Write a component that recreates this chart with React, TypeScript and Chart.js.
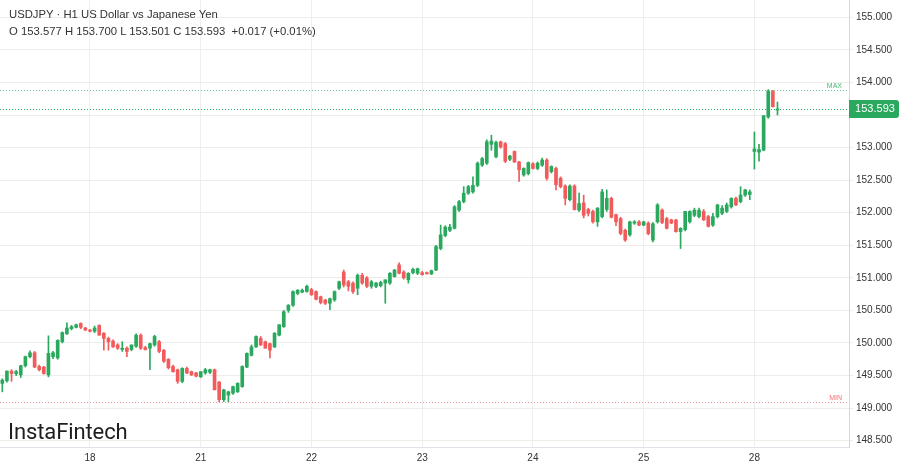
import React, { useEffect, useRef } from "react";
import { Chart, registerables } from "chart.js";

Chart.register(...registerables);

// ---- data (hourly candles, USDJPY H1) ----
const OPEN = [
  149.38, 149.42, 149.57, 149.53, 149.51, 149.65, 149.79, 149.85, 149.64, 149.63,
  149.51, 149.79, 149.77, 150.02, 150.14, 150.22, 150.24, 150.30, 150.23, 150.20,
  150.18, 150.27, 150.15, 150.07, 150.03, 149.97, 149.90, 149.92, 149.90, 149.95,
  150.12, 149.93, 149.92, 149.97, 150.02, 149.89, 149.75, 149.64, 149.59, 149.41,
  149.61, 149.56, 149.54, 149.48, 149.54, 149.55, 149.59, 149.40, 149.13, 149.20,
  149.23, 149.25, 149.33, 149.63, 149.81, 149.94, 150.07, 150.02, 149.99, 149.94,
  150.12, 150.25, 150.50, 150.58, 150.76, 150.78, 150.79, 150.82, 150.79, 150.71,
  150.66, 150.61, 150.66, 150.84, 151.09, 150.94, 150.92, 150.84, 151.04, 151.00,
  150.87, 150.87, 150.88, 150.92, 150.92, 151.02, 151.20, 151.09, 150.97, 151.08,
  151.07, 151.08, 151.08, 151.06, 151.12, 151.45, 151.65, 151.73, 151.76, 152.04,
  152.17, 152.30, 152.32, 152.42, 152.73, 152.76, 153.05, 152.86, 153.09, 153.06,
  152.82, 152.94, 152.78, 152.58, 152.60, 152.75, 152.68, 152.73, 152.81, 152.63,
  152.68, 152.53, 152.41, 152.20, 152.41, 152.04, 152.15, 152.05, 152.02, 151.86,
  151.94, 152.05, 152.22, 151.97, 151.91, 151.73, 151.66, 151.84, 151.86, 151.81,
  151.84, 151.58, 151.86, 152.04, 151.91, 151.89, 151.89, 151.71, 151.74, 151.86,
  151.96, 151.94, 152.02, 151.94, 151.81, 151.94, 151.99, 152.02, 152.09, 152.22,
  152.17, 152.27, 152.28, 152.94, 152.93, 152.96, 153.47, 153.86, 153.577,
];
const HIGH = [
  149.45, 149.57, 149.59, 149.58, 149.66, 149.80, 149.88, 149.87, 149.66, 149.64,
  150.11, 149.87, 150.05, 150.17, 150.31, 150.27, 150.29, 150.31, 150.24, 150.21,
  150.26, 150.28, 150.16, 150.09, 150.05, 149.99, 150.02, 149.94, 149.97, 150.14,
  150.14, 149.95, 150.00, 150.12, 150.04, 149.90, 149.76, 149.66, 149.60, 149.62,
  149.63, 149.57, 149.55, 149.56, 149.61, 149.60, 149.60, 149.41, 149.29, 149.26,
  149.34, 149.39, 149.65, 149.85, 149.97, 150.11, 150.10, 150.03, 150.00, 150.16,
  150.28, 150.50, 150.59, 150.80, 150.82, 150.83, 150.89, 150.84, 150.80, 150.72,
  150.67, 150.69, 150.80, 150.95, 151.12, 150.96, 150.94, 151.06, 151.07, 151.02,
  150.96, 150.93, 150.95, 150.97, 151.08, 151.13, 151.23, 151.11, 151.08, 151.15,
  151.15, 151.10, 151.09, 151.12, 151.50, 151.81, 151.80, 151.82, 152.11, 152.19,
  152.40, 152.42, 152.55, 152.78, 152.85, 153.12, 153.19, 153.10, 153.10, 153.08,
  152.88, 152.95, 152.79, 152.69, 152.78, 152.77, 152.78, 152.84, 152.83, 152.72,
  152.70, 152.55, 152.43, 152.43, 152.43, 152.30, 152.27, 152.07, 152.04, 152.08,
  152.36, 152.35, 152.24, 151.98, 151.93, 151.75, 151.87, 151.88, 151.88, 151.87,
  151.86, 151.85, 152.14, 152.06, 151.93, 151.90, 151.90, 151.77, 152.02, 152.03,
  152.07, 152.07, 152.05, 151.96, 151.99, 152.13, 152.11, 152.15, 152.23, 152.24,
  152.40, 152.36, 152.35, 153.24, 153.05, 153.49, 153.89, 153.88, 153.700,
];
const LOW = [
  149.25, 149.40, 149.41, 149.50, 149.47, 149.63, 149.77, 149.62, 149.57, 149.52,
  149.48, 149.76, 149.75, 150.00, 150.13, 150.20, 150.23, 150.22, 150.19, 150.17,
  150.16, 150.12, 149.89, 149.89, 149.93, 149.90, 149.87, 149.79, 149.88, 149.93,
  149.90, 149.89, 149.59, 149.95, 149.85, 149.70, 149.60, 149.55, 149.38, 149.39,
  149.53, 149.50, 149.48, 149.47, 149.52, 149.53, 149.28, 149.10, 149.10, 149.10,
  149.21, 149.24, 149.32, 149.62, 149.80, 149.93, 149.96, 149.92, 149.77, 149.93,
  150.11, 150.24, 150.47, 150.56, 150.74, 150.77, 150.78, 150.73, 150.66, 150.60,
  150.59, 150.51, 150.64, 150.82, 150.86, 150.80, 150.76, 150.74, 150.90, 150.85,
  150.84, 150.85, 150.86, 150.61, 150.90, 151.01, 151.06, 150.98, 150.92, 151.06,
  151.05, 151.04, 151.06, 151.05, 151.11, 151.43, 151.63, 151.71, 151.75, 152.02,
  152.15, 152.28, 152.30, 152.40, 152.71, 152.74, 152.96, 152.84, 152.99, 152.77,
  152.80, 152.77, 152.48, 152.56, 152.58, 152.67, 152.66, 152.71, 152.50, 152.61,
  152.35, 152.38, 152.12, 152.18, 152.04, 152.02, 151.92, 151.95, 151.84, 151.79,
  151.92, 152.02, 151.92, 151.80, 151.66, 151.56, 151.64, 151.82, 151.80, 151.80,
  151.66, 151.55, 151.84, 151.83, 151.75, 151.83, 151.70, 151.45, 151.72, 151.84,
  151.94, 151.92, 151.88, 151.78, 151.79, 151.92, 151.97, 152.00, 152.07, 152.11,
  152.15, 152.25, 152.20, 152.67, 152.79, 152.95, 153.45, 153.62, 153.501,
];
const CLOSE = [
  149.43, 149.57, 149.53, 149.56, 149.65, 149.79, 149.85, 149.63, 149.59, 149.53,
  149.84, 149.85, 150.04, 150.16, 150.23, 150.25, 150.28, 150.24, 150.20, 150.18,
  150.23, 150.12, 150.07, 150.02, 149.94, 149.92, 149.92, 149.87, 149.97, 150.12,
  149.92, 149.90, 149.99, 150.10, 149.87, 149.72, 149.62, 149.56, 149.41, 149.61,
  149.54, 149.51, 149.49, 149.56, 149.59, 149.59, 149.28, 149.13, 149.28, 149.25,
  149.33, 149.38, 149.64, 149.84, 149.94, 150.10, 149.97, 149.92, 149.89, 150.15,
  150.28, 150.48, 150.58, 150.79, 150.81, 150.81, 150.87, 150.74, 150.67, 150.62,
  150.61, 150.68, 150.79, 150.94, 150.89, 150.87, 150.79, 151.04, 150.92, 150.87,
  150.94, 150.92, 150.93, 150.97, 151.07, 151.12, 151.07, 151.00, 151.07, 151.13,
  151.14, 151.05, 151.06, 151.11, 151.48, 151.66, 151.78, 151.78, 152.09, 152.17,
  152.30, 152.40, 152.42, 152.76, 152.83, 153.09, 153.10, 153.08, 153.01, 152.79,
  152.87, 152.78, 152.66, 152.68, 152.77, 152.68, 152.76, 152.81, 152.53, 152.71,
  152.43, 152.40, 152.22, 152.41, 152.05, 152.14, 151.96, 151.99, 151.86, 152.07,
  152.32, 152.22, 151.93, 151.86, 151.68, 151.58, 151.86, 151.86, 151.81, 151.86,
  151.68, 151.83, 152.12, 151.85, 151.76, 151.84, 151.71, 151.76, 152.02, 152.02,
  152.04, 152.04, 151.89, 151.79, 151.94, 152.12, 152.07, 152.12, 152.22, 152.12,
  152.27, 152.35, 152.32, 152.98, 152.97, 153.49, 153.87, 153.63, 153.593,
];

const DAY_LABELS = ["18", "21", "22", "23", "24", "25", "28"];
const DAY_INDEX = [19, 43, 67, 91, 115, 139, 163];
const Y_TICKS = [148.5, 149, 149.5, 150, 150.5, 151, 151.5, 152, 152.5, 153, 153.5, 154, 154.5, 155];
const SLOTS = 184;
const Y_MIN = 148.403;
const Y_MAX = 155.266;

const GREEN = "#2aa95e";
const RED = "#f25b5b";

const overlayPlugin = {
  id: "overlay",
  beforeDatasetsDraw(chart: any) {
    const { ctx, chartArea, scales } = chart;
    const y = scales.y;
    const hi = Math.max(...HIGH);
    const lo = Math.min(...LOW);
    const last = CLOSE[CLOSE.length - 1];
    ctx.save();
    ctx.lineWidth = 1;
    ctx.setLineDash([1, 2]);
    const line = (v: number, color: string) => {
      const py = Math.round(y.getPixelForValue(v)) + 0.5;
      ctx.strokeStyle = color;
      ctx.beginPath();
      ctx.moveTo(chartArea.left, py);
      ctx.lineTo(chartArea.right, py);
      ctx.stroke();
      return py;
    };
    const pMax = line(hi, "#72c796");
    const pMin = line(lo, "#f29a9a");
    line(last, "#22b35f");
    ctx.setLineDash([]);
    ctx.font = "7px 'Liberation Sans', Arial, sans-serif";
    ctx.textAlign = "right";
    ctx.textBaseline = "alphabetic";
    ctx.fillStyle = "#45b874";
    ctx.fillText("MAX", chartArea.right - 7, pMax - 3);
    ctx.fillStyle = "#f07070";
    ctx.fillText("MIN", chartArea.right - 7, pMin - 3);
    ctx.restore();
  },
  afterDraw(chart: any) {
    const { ctx, chartArea, scales } = chart;
    const y = scales.y;
    const last = CLOSE[CLOSE.length - 1];
    const py = y.getPixelForValue(last);
    const x0 = chartArea.right;
    const x1 = chart.width - 1;
    const h = 18;
    const top = py - h / 2;
    ctx.save();
    ctx.fillStyle = "#2aa95e";
    ctx.beginPath();
    const r = 3;
    ctx.moveTo(x0, top);
    ctx.lineTo(x1 - r, top);
    ctx.quadraticCurveTo(x1, top, x1, top + r);
    ctx.lineTo(x1, top + h - r);
    ctx.quadraticCurveTo(x1, top + h, x1 - r, top + h);
    ctx.lineTo(x0, top + h);
    ctx.closePath();
    ctx.fill();
    ctx.fillStyle = "#ffffff";
    ctx.font = "11px 'Liberation Sans', Arial, sans-serif";
    ctx.textAlign = "center";
    ctx.textBaseline = "middle";
    ctx.fillText(last.toFixed(3), (x0 + x1) / 2 + 1, py + 0.5);
    ctx.restore();
  },
};

export default function App() {
  const ref = useRef<HTMLCanvasElement | null>(null);

  useEffect(() => {
    document.body.style.margin = "0";
    const canvas = ref.current;
    if (!canvas) return;
    const labels = Array.from({ length: SLOTS }, (_, i) => String(i));
    const colors = CLOSE.map((c, i) => (c >= OPEN[i] ? GREEN : RED));
    const wicks = LOW.map((l, i) => [l, HIGH[i]]);
    const bodies = OPEN.map((o, i) => {
      const c = CLOSE[i];
      let a = Math.min(o, c);
      let b = Math.max(o, c);
      if (b - a < 0.016) {
        const m = (a + b) / 2;
        a = m - 0.008;
        b = m + 0.008;
      }
      return [a, b];
    });

    const chart = new Chart(canvas, {
      type: "bar",
      data: {
        labels,
        datasets: [
          {
            data: wicks as any,
            backgroundColor: colors,
            barThickness: 1,
            grouped: false,
            order: 2,
          } as any,
          {
            data: bodies as any,
            backgroundColor: colors,
            barThickness: 3,
            grouped: false,
            order: 1,
          } as any,
        ],
      },
      options: {
        animation: false,
        responsive: false,
        maintainAspectRatio: false,
        layout: { padding: 0 },
        plugins: {
          legend: { display: false },
          tooltip: { enabled: false },
        },
        scales: {
          x: {
            type: "category",
            offset: true,
            grid: {
              offset: false,
              color: "#eeeeee",
              drawTicks: false,
            },
            border: { display: true, color: "#dfe4ea" },
            afterBuildTicks: (scale: any) => {
              scale.ticks = DAY_INDEX.map((v) => ({ value: v }));
            },
            afterFit: (scale: any) => {
              scale.height = 21;
              scale.paddingLeft = 0;
              scale.paddingRight = 0;
            },
            ticks: {
              autoSkip: false,
              maxRotation: 0,
              padding: 5,
              color: "#333333",
              font: { size: 10, family: "'Liberation Sans', Arial, sans-serif" },
              callback: (value: any) => {
                const k = DAY_INDEX.indexOf(Number(value));
                return k >= 0 ? DAY_LABELS[k] : "";
              },
            },
          },
          y: {
            type: "linear",
            position: "right",
            min: Y_MIN,
            max: Y_MAX,
            grid: {
              color: "#ececec",
              tickLength: 4,
            },
            border: { display: true, color: "#cfd8e2" },
            afterBuildTicks: (scale: any) => {
              scale.ticks = Y_TICKS.map((v) => ({ value: v }));
            },
            afterFit: (scale: any) => {
              scale.width = 51;
              scale.paddingTop = 0;
              scale.paddingBottom = 0;
            },
            ticks: {
              padding: 3,
              color: "#333333",
              font: { size: 10, family: "'Liberation Sans', Arial, sans-serif" },
              callback: (value: any) => Number(value).toFixed(3),
            },
          },
        },
      },
      plugins: [overlayPlugin],
    });
    return () => chart.destroy();
  }, []);

  return (
    <div style={{ position: "relative", width: 900, height: 468, background: "#ffffff", overflow: "hidden" }}>
      <canvas ref={ref} width={900} height={468} style={{ display: "block", width: 900, height: 468 }} />
      <div
        style={{
          position: "absolute",
          left: 9,
          top: 6,
          font: "11.3px 'Liberation Sans', Arial, sans-serif",
          lineHeight: "16.6px",
          color: "#333333",
          whiteSpace: "pre",
        }}
      >
        <div>USDJPY · H1 US Dollar vs Japanese Yen</div>
        <div>O 153.577 H 153.700 L 153.501 C 153.593  +0.017 (+0.01%)</div>
      </div>
      <div
        style={{
          position: "absolute",
          left: 8,
          top: 419,
          font: "400 22px Roboto, 'Open Sans', sans-serif",
          color: "#1e1e1e",
          letterSpacing: "-0.1px",
        }}
      >
        InstaFintech
      </div>
    </div>
  );
}
